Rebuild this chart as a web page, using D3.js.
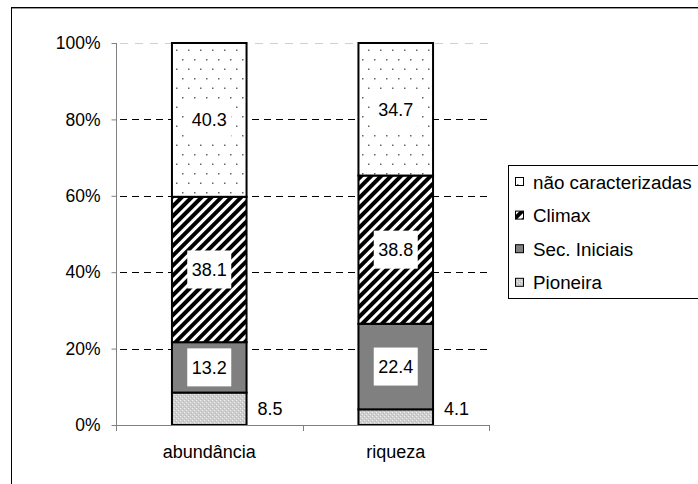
<!DOCTYPE html>
<html>
<head>
<meta charset="utf-8">
<script src="https://cdn.jsdelivr.net/npm/d3@7"></script>
<style>
  html, body { margin: 0; padding: 0; background: #fff; }
  svg { display: block; font-family: Arial, "Liberation Sans", sans-serif; }
</style>
</head>
<body>
<svg id="chart" width="698" height="484"></svg>
<script>
// Categories on the x axis
const categories = ["abundância", "riqueza"];

// Series, bottom to top of each stack (percent values)
const seriesNames = ["Pioneira", "Sec. Iniciais", "Climax", "não caracterizadas"];
const pioneira = [8.5, 4.1];
const secIniciais = [13.2, 22.4];
const climax = [38.1, 38.8];
const naoCaracterizadas = [40.3, 34.7];

// Y axis tick values and their labels
const yTicks = [0, 20, 40, 60, 80, 100];
const yTickLabels = ["0%", "20%", "40%", "60%", "80%", "100%"];

const seriesValues = [pioneira, secIniciais, climax, naoCaracterizadas];

const svg = d3.select("#chart");
const defs = svg.append("defs");

// Fill patterns
const dots = defs.append("pattern").attr("id", "pat-dots")
  .attr("patternUnits", "userSpaceOnUse").attr("width", 12).attr("height", 19);
dots.append("rect").attr("width", 12).attr("height", 19).attr("fill", "#fff");
dots.append("rect").attr("x", 2).attr("y", 2).attr("width", 1.5).attr("height", 1.5).attr("fill", "#666");
dots.append("rect").attr("x", 8).attr("y", 11.5).attr("width", 1.5).attr("height", 1.5).attr("fill", "#666");

const hatch = defs.append("pattern").attr("id", "pat-hatch")
  .attr("patternUnits", "userSpaceOnUse").attr("width", 7).attr("height", 7)
  .attr("patternTransform", "rotate(45)");
hatch.append("rect").attr("width", 7).attr("height", 7).attr("fill", "#fff");
hatch.append("rect").attr("width", 4).attr("height", 7).attr("fill", "#000");

const speck = defs.append("pattern").attr("id", "pat-speck")
  .attr("patternUnits", "userSpaceOnUse").attr("width", 4).attr("height", 4);
speck.append("rect").attr("width", 4).attr("height", 4).attr("fill", "#cdcdcd");
speck.append("rect").attr("x", 0).attr("y", 0).attr("width", 1).attr("height", 1).attr("fill", "#f0f0f0");
speck.append("rect").attr("x", 2).attr("y", 2).attr("width", 1).attr("height", 1).attr("fill", "#f0f0f0");
speck.append("rect").attr("x", 1).attr("y", 3).attr("width", 1).attr("height", 1).attr("fill", "#b8b8b8");
speck.append("rect").attr("x", 3).attr("y", 1).attr("width", 1).attr("height", 1).attr("fill", "#b8b8b8");

const fills = ["url(#pat-speck)", "#808080", "url(#pat-hatch)", "url(#pat-dots)"];

// Chart area frame
svg.append("rect")
  .attr("x", 11.5).attr("y", 7.5).attr("width", 700).attr("height", 490)
  .attr("fill", "#fff").attr("stroke", "#000").attr("stroke-width", 1);
svg.append("line").attr("x1", 12).attr("x2", 698).attr("y1", 8.5).attr("y2", 8.5)
  .attr("stroke", "#999").attr("stroke-width", 1);

// Plot area
const plot = { left: 116, right: 489, top: 43, bottom: 425 };

const x = d3.scaleBand().domain(categories).range([plot.left, plot.right]).padding(0);
const barWidth = x.bandwidth() * 0.4;
const y = d3.scaleLinear().domain([0, 100]).range([plot.bottom, plot.top]);

// Stack data (normalized to 100% per category)
const rows = categories.map((c, i) => {
  const row = { category: c };
  seriesNames.forEach((s, k) => { row[s] = seriesValues[k][i]; });
  return row;
});
const stacked = d3.stack().keys(seriesNames).offset(d3.stackOffsetExpand)(rows);

// Gridlines
svg.append("g").selectAll("line")
  .data(yTicks.filter(t => t > 0))
  .join("line")
  .attr("x1", plot.left + 4).attr("x2", plot.right)
  .attr("y1", d => Math.round(y(d)) + 0.5).attr("y2", d => Math.round(y(d)) + 0.5)
  .attr("stroke", d => d === 100 ? "#d0d0d0" : "#000")
  .attr("stroke-width", 1)
  .attr("stroke-dasharray", d => d === 100 ? "8,7" : "7,5");

// Bars
const layer = svg.append("g").selectAll("g")
  .data(stacked)
  .join("g")
  .attr("fill", (d, i) => fills[i]);

layer.selectAll("rect")
  .data(d => d.map(p => ({ p, cat: p.data.category })))
  .join("rect")
  .attr("x", d => x(d.cat) + (x.bandwidth() - barWidth) / 2)
  .attr("y", d => y(d.p[1] * 100))
  .attr("width", barWidth)
  .attr("height", d => y(d.p[0] * 100) - y(d.p[1] * 100))
  .attr("stroke", "#000")
  .attr("stroke-width", 2);

// Y axis
const yAxis = d3.axisLeft(y).tickValues(yTicks)
  .tickFormat((d, i) => yTickLabels[i]).tickSize(5).tickPadding(11);
const gy = svg.append("g").attr("transform", `translate(${plot.left + 0.5},0)`).call(yAxis);
gy.select(".domain").attr("stroke", "#808080").attr("d", `M0,${plot.top}V${plot.bottom}`);
gy.selectAll(".tick line").attr("stroke", "#808080");
gy.selectAll(".tick text").attr("font-size", 17.5).attr("fill", "#000")
  .attr("font-family", "Arial, 'Liberation Sans', sans-serif");

// X axis
const xAxis = d3.axisBottom(x).tickSize(0).tickPadding(20);
const gx = svg.append("g").attr("transform", `translate(0,${plot.bottom + 0.5})`).call(xAxis);
gx.select(".domain").attr("stroke", "#808080").attr("d", `M${plot.left},0H${plot.right}`);
gx.selectAll(".tick text").attr("font-size", 18).attr("fill", "#000")
  .attr("font-family", "Arial, 'Liberation Sans', sans-serif");
// Category separators below the axis
svg.append("g").selectAll("line")
  .data(categories.map(c => x(c)).concat([plot.right]))
  .join("line")
  .attr("x1", d => Math.round(d) + 0.5).attr("x2", d => Math.round(d) + 0.5)
  .attr("y1", plot.bottom).attr("y2", plot.bottom + 6)
  .attr("stroke", "#808080");

// Data labels
const labels = svg.append("g").attr("font-size", 18)
  .attr("font-family", "Arial, 'Liberation Sans', sans-serif");
stacked.forEach((s, k) => {
  s.forEach((p, i) => {
    const cat = categories[i];
    const value = seriesValues[k][i];
    const text = value.toFixed(1);
    if (k === 0) {
      // bottom series labels sit outside, to the right of the bar
      labels.append("text")
        .attr("x", x(cat) + (x.bandwidth() + barWidth) / 2 + 11)
        .attr("y", y(4.3))
        .attr("dy", "0.35em")
        .text(text);
    } else {
      const cx = x(cat) + x.bandwidth() / 2;
      const cy = y((p[0] + p[1]) / 2 * 100);
      labels.append("rect")
        .attr("x", cx - 22).attr("y", cy - 19)
        .attr("width", 44).attr("height", 38)
        .attr("fill", "#fff");
      labels.append("text")
        .attr("x", cx).attr("y", cy)
        .attr("dy", "0.35em")
        .attr("text-anchor", "middle")
        .text(text);
    }
  });
});

// Legend (top series first)
const legend = svg.append("g");
legend.append("rect")
  .attr("x", 508.5).attr("y", 165.5).attr("width", 200).attr("height", 133)
  .attr("fill", "#fff").attr("stroke", "#000");
const legendOrder = seriesNames.map((n, i) => ({ n, i })).reverse();
const item = legend.selectAll("g.item")
  .data(legendOrder)
  .join("g")
  .attr("class", "item")
  .attr("transform", (d, j) => `translate(515,${182 + j * 33.6})`);
item.append("rect")
  .attr("x", 0.5).attr("y", -4.5).attr("width", 8).attr("height", 8)
  .attr("fill", d => fills[d.i]).attr("stroke", "#000").attr("stroke-width", 1);
item.append("text")
  .attr("x", 18).attr("y", 0).attr("dy", "0.35em")
  .attr("font-size", 18.8)
  .attr("font-family", "Arial, 'Liberation Sans', sans-serif")
  .text(d => d.n);
</script>
</body>
</html>
